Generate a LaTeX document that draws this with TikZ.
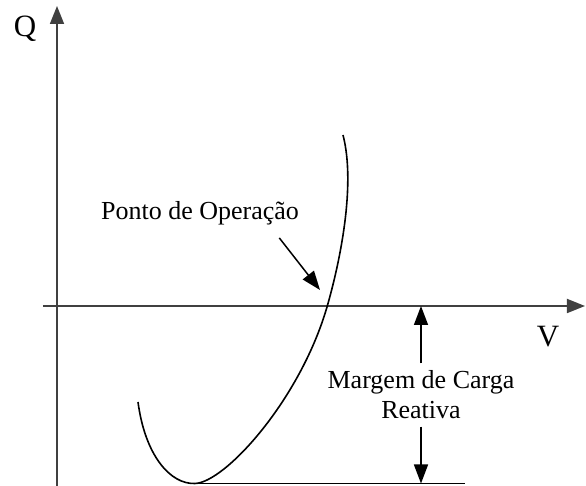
\documentclass[tikz,border=0pt]{standalone}
\usepackage{fontspec}
\setmainfont{Liberation Serif}
\usetikzlibrary{arrows.meta,positioning}

\tikzset{
  axis/.style={line width=0.9pt, color=black!75, -{Triangle[length=9pt,width=7pt]}},
  pointer/.style={line width=0.75pt, -{Triangle[length=9.5pt,width=7pt]}},
  curvelabel/.style={font=\fontsize{13}{15}\selectfont, inner sep=0pt},
  axislabel/.style={font=\fontsize{15.5}{18}\selectfont, inner sep=0pt},
}

\begin{document}
\begin{tikzpicture}[x=0.5pt,y=-0.5pt]
  \useasboundingbox (0,0) rectangle (586,486);

  % axes
  \coordinate (vstart) at (43,306);
  \coordinate (vend) at (585,306);
  \coordinate (qstart) at (57,486);
  \coordinate (qend) at (57,6);
  \draw [axis] (vstart) -- (vend);
  \draw [axis] (qstart) -- (qend);
  \node [axislabel, anchor=base] (qlabel) at (25,37) {Q};
  \node [axislabel, anchor=base] (vlabel) at (548,347) {V};

  % curve
  \coordinate (qmin) at (195,483.5);
  \coordinate (qbase) at (465,483.5);
  \coordinate (op) at (327,307);
  \draw [line width=0.8pt] (138,402) .. controls (145,455) and (170,484.5) .. (qmin)
    .. controls (225,482.5) and (300,400) .. (op)
    .. controls (340,262) and (356,185) .. (343,135);
  \draw [line width=0.8pt] (qmin) -- (qbase);

  \node [curvelabel, anchor=base] (ponto) at (200,220) {Ponto de Operação};
  \draw [pointer] ([xshift=-10pt,yshift=-6pt]ponto.south east) -- ([xshift=-3.5pt,yshift=8.5pt]op);

  \node [curvelabel, align=center, inner sep=3.5pt] (margem) at (421,395) {Margem de Carga\\Reativa};
  \draw [pointer] (margem.north) -- (margem.north |- vend);
  \draw [pointer] (margem.south) -- (margem.south |- qbase);
\end{tikzpicture}
\end{document}
